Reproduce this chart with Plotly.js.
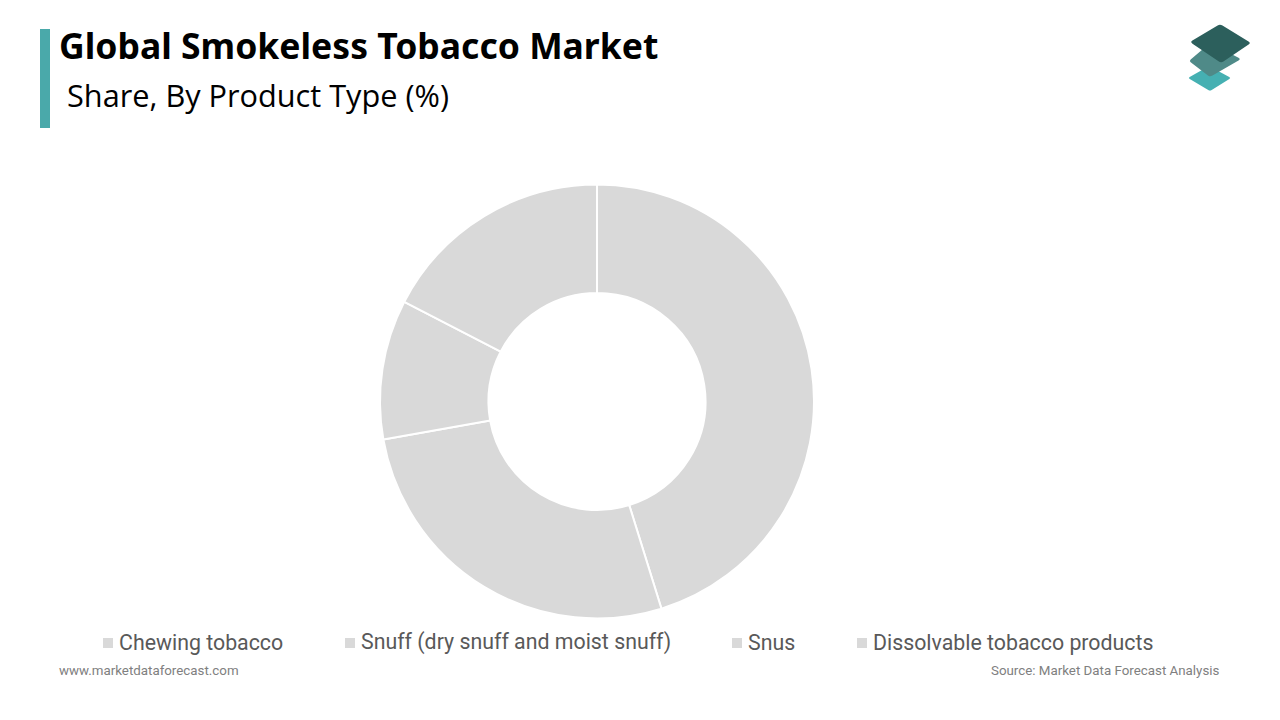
<!DOCTYPE html>
<html>
<head>
<meta charset="utf-8">
<script src="https://cdn.plot.ly/plotly-3.0.1.min.js"></script>
<style>
  html, body { margin: 0; padding: 0; background: #fff; }
  #chart { width: 1280px; height: 720px; }
</style>
</head>
<body>
<div id="chart"></div>
<script>
const productTypes = [
    "Chewing tobacco",
    "Snuff (dry snuff and moist snuff)",
    "Snus",
    "Dissolvable tobacco products",
];
const productShares = [45.2, 27.0, 10.4, 17.4];
const sliceColors = ["#d9d9d9", "#d9d9d9", "#d9d9d9", "#d9d9d9"];
// left edge of each legend swatch; plotly's own legend can't do these gaps
const legendLeft = [103, 345, 732, 857];

const W = 1280, H = 720;

// pixel position -> paper fraction
const px = x => x / W;
const py = y => 1 - y / H;
const pt = p => px(p[0]).toFixed(5) + "," + py(p[1]).toFixed(5);

// logo diamond with slightly rounded corners
function diamond(points, fill) {
    const toward = (a, b, t) => [a[0] + (b[0] - a[0]) * t, a[1] + (b[1] - a[1]) * t];
    let path = "";
    points.forEach((p, i) => {
        const prev = points[(i + 3) % 4], next = points[(i + 1) % 4];
        path += (i ? "L" : "M") + pt(toward(p, prev, 0.08)) + " Q" + pt(p) + " " + pt(toward(p, next, 0.08)) + " ";
    });
    return { type: "path", xref: "paper", yref: "paper", path: path + "Z", fillcolor: fill,
        line: { width: 0 }, layer: "above" };
}

function label(text, x, y, anchor, family, size, color) {
    return { text, xref: "paper", yref: "paper", x: px(x), y: py(y),
        xanchor: anchor, yanchor: "middle", showarrow: false,
        font: { family, size, color } };
}

const trace = {
    type: "pie",
    labels: productTypes,
    values: productShares,
    hole: 0.5,
    sort: false,
    direction: "clockwise",
    rotation: 0,
    textinfo: "none",
    hoverinfo: "label+percent",
    marker: { colors: sliceColors, line: { color: "#ffffff", width: 2 } },
    domain: { x: [px(380), px(814)], y: [py(618.5), py(184.5)] },
};

const legendSwatches = productTypes.map((name, i) => ({
    type: "rect", xref: "paper", yref: "paper",
    x0: px(legendLeft[i]), x1: px(legendLeft[i] + 10), y0: py(648), y1: py(638),
    fillcolor: sliceColors[i], line: { width: 0 },
}));
const legendLabels = productTypes.map((name, i) =>
    label(name, legendLeft[i] + 14, 642, "left", "Roboto", 21.33, "#595959"));

const layout = {
    width: W,
    height: H,
    margin: { t: 0, b: 0, l: 0, r: 0 },
    paper_bgcolor: "#ffffff",
    title: {
        text: "<b>Global Smokeless Tobacco Market</b>",
        font: { family: "Noto Sans", size: 35.5, color: "#000000" },
        xref: "paper", yref: "paper",
        x: px(59), xanchor: "left",
        y: py(47), yanchor: "middle",
    },
    showlegend: false,
    shapes: [
        { type: "rect", xref: "paper", yref: "paper", x0: px(40), x1: px(50), y0: py(128), y1: py(29),
            fillcolor: "#4aa9aa", line: { width: 0 } },
        // logo, bottom layer to top
        diamond([[1209, 66], [1231, 78], [1210, 91], [1188, 78]], "#45b0b2"),
        diamond([[1210, 43], [1241, 59], [1210, 77], [1189, 61]], "#4f8a88"),
        diamond([[1220, 24], [1251, 43], [1221, 63], [1190, 42]], "#2c5f5c"),
        ...legendSwatches,
    ],
    annotations: [
        label("Share, By Product Type (%)", 65, 95.5, "left", "Open Sans", 30.7, "#000000"),
        label("www.marketdataforecast.com", 57, 670.5, "left", "Roboto", 13.33, "#808080"),
        label("Source: Market Data Forecast Analysis", 1222, 670.5, "right", "Roboto", 13.33, "#808080"),
        ...legendLabels,
    ],
};

Plotly.newPlot("chart", [trace], layout, { displayModeBar: false });
</script>
</body>
</html>
